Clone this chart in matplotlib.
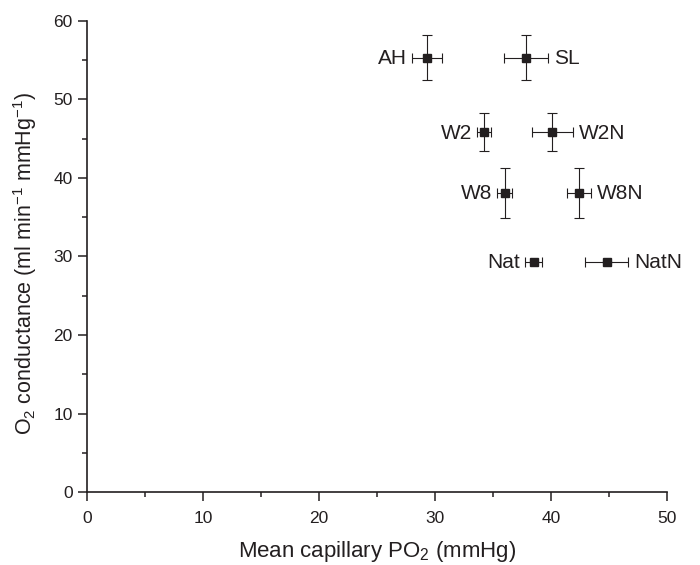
import matplotlib
matplotlib.use("Agg")
import matplotlib.pyplot as plt
from matplotlib.ticker import MultipleLocator

# Values
groups = ["AH", "SL", "W2", "W2N", "W8", "W8N", "Nat", "NatN"]
mean_po2 = [29.3, 37.8, 34.2, 40.1, 36.0, 42.4, 38.5, 44.8]
po2_err = [1.3, 1.9, 0.6, 1.75, 0.65, 1.05, 0.75, 1.85]
conductance = [55.3, 55.3, 45.8, 45.8, 38.1, 38.1, 29.3, 29.3]
cond_err = [2.85, 2.85, 2.4, 2.4, 3.2, 3.2, 0.0, 0.0]
label_side = ["left", "right", "left", "right", "left", "right", "left", "right"]

ink = "#231f20"
plt.rcParams["font.family"] = ["Liberation Sans", "DejaVu Sans"]
plt.rcParams["mathtext.fontset"] = "custom"
plt.rcParams["mathtext.rm"] = "Liberation Sans"
plt.rcParams["mathtext.it"] = "Liberation Sans:italic"
plt.rcParams["mathtext.default"] = "rm"

fig = plt.figure(figsize=(7.0, 5.65), dpi=100)
ax = fig.add_axes([0.1247, 0.1287, 0.8282, 0.8347])

ax.errorbar(mean_po2, conductance, xerr=po2_err, yerr=cond_err, fmt="s",
            color=ink, ecolor=ink, markersize=6, elinewidth=0.8,
            capsize=3.3, capthick=0.8, zorder=3)

# labels sit beside the error bars
for name, x, y, xe, side in zip(groups, mean_po2, conductance, po2_err, label_side):
    if side == "left":
        ax.annotate(name, (x - xe, y), xytext=(-5, -1), textcoords="offset pixels",
                    ha="right", va="center", fontsize=15, color=ink)
    else:
        ax.annotate(name, (x + xe, y), xytext=(6, -1), textcoords="offset pixels",
                    ha="left", va="center", fontsize=15, color=ink)

ax.set_xlim(0, 50)
ax.set_ylim(0, 60)
ax.xaxis.set_major_locator(MultipleLocator(10))
ax.xaxis.set_minor_locator(MultipleLocator(5))
ax.yaxis.set_major_locator(MultipleLocator(10))
ax.yaxis.set_minor_locator(MultipleLocator(5))

for s in ["top", "right"]:
    ax.spines[s].set_visible(False)
for s in ["left", "bottom"]:
    ax.spines[s].set_linewidth(1.2)
    ax.spines[s].set_color(ink)
ax.tick_params(which="major", direction="out", length=6.5, width=1.1,
               color=ink, labelsize=12.5, labelcolor=ink, pad=4)
ax.tick_params(which="minor", direction="out", length=3.6, width=1.1, color=ink)
ax.tick_params(axis="x", which="major", pad=7)

ax.set_xlabel("Mean capillary PO$_2$ (mmHg)", fontsize=16, color=ink, labelpad=9)
ax.set_ylabel("O$_2$ conductance (ml min$^{-1}$ mmHg$^{-1}$)", fontsize=15.5,
              color=ink, labelpad=10)
ax.yaxis.label.set_y(0.485)

fig.savefig("out.png", dpi=100)
